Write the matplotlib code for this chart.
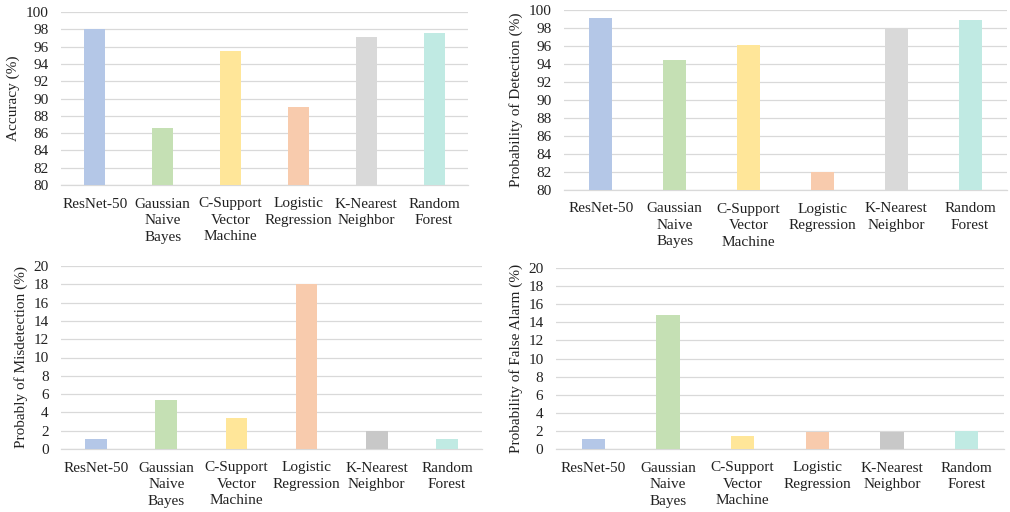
import matplotlib.pyplot as plt
import numpy as np

plt.rcParams['font.family'] = ['Liberation Serif', 'DejaVu Serif']

models = ['ResNet-50', 'Gaussian\nNaive\nBayes', 'C-Support\nVector\nMachine',
          'Logistic\nRegression', 'K-Nearest\nNeighbor', 'Random\nForest']

accuracy = [98.0, 86.6, 95.5, 89.0, 97.1, 97.6]
detection = [99.1, 94.4, 96.1, 82.0, 98.0, 98.9]
misdetection = [1.06, 5.32, 3.42, 18.0, 2.0, 1.06]
false_alarm = [1.07, 14.77, 1.44, 1.84, 1.84, 2.03]

top_colors = ['#b4c7e7', '#c5e0b4', '#ffe699', '#f8cbad', '#d9d9d9', '#c0eae3']
bottom_colors = ['#b4c7e7', '#c5e0b4', '#ffe699', '#f8cbad', '#c8c8c8', '#c0eae3']

W, H = 1010, 512
fig = plt.figure(figsize=(W / 100, H / 100), dpi=100)
fig.patch.set_facecolor('white')


def px_axes(x0, y0, x1, y1):
    # axes from pixel box (left, top, right, bottom)
    return fig.add_axes([x0 / W, 1 - y1 / H, (x1 - x0) / W, (y1 - y0) / H])


panels = [
    ((61, 12, 468, 185), accuracy, 'Accuracy (%)', (80, 100), top_colors),
    ((564, 10, 1007, 190), detection, 'Probability of Detection (%)', (80, 100), top_colors),
    ((61, 266, 482, 449), misdetection, 'Probably of Misdetection (%)', (0, 20), bottom_colors),
    ((556, 268, 1004, 449), false_alarm, 'Probability of False Alarm (%)', (0, 20), bottom_colors),
]

x = np.arange(len(models))
for box, vals, ylabel, ylim, cols in panels:
    ax = px_axes(*box)
    lo, hi = ylim
    ax.bar(x, np.array(vals) - lo, bottom=lo, width=0.31, color=cols, zorder=3)
    ax.set_xlim(-0.5, len(models) - 0.5)
    ax.set_ylim(lo, hi)
    ax.set_yticks(np.arange(lo, hi + 1, 2))
    ax.grid(axis='y', color='#d9d9d9', linewidth=0.9, zorder=0)
    for s in ['top', 'right', 'left']:
        ax.spines[s].set_visible(False)
    ax.spines['bottom'].set_color('#d9d9d9')
    ax.spines['bottom'].set_linewidth(0.9)
    ax.tick_params(length=0, labelsize=11, colors='#222222')
    ax.tick_params(axis='y', pad=9)
    ax.tick_params(axis='x', pad=9)
    ax.set_xticks(x)
    ax.set_xticklabels(models, fontsize=11, linespacing=1.35)
    ax.set_ylabel(ylabel, fontsize=11, color='#222222', labelpad=4)

fig.savefig('out.png', dpi=100, facecolor='white')
